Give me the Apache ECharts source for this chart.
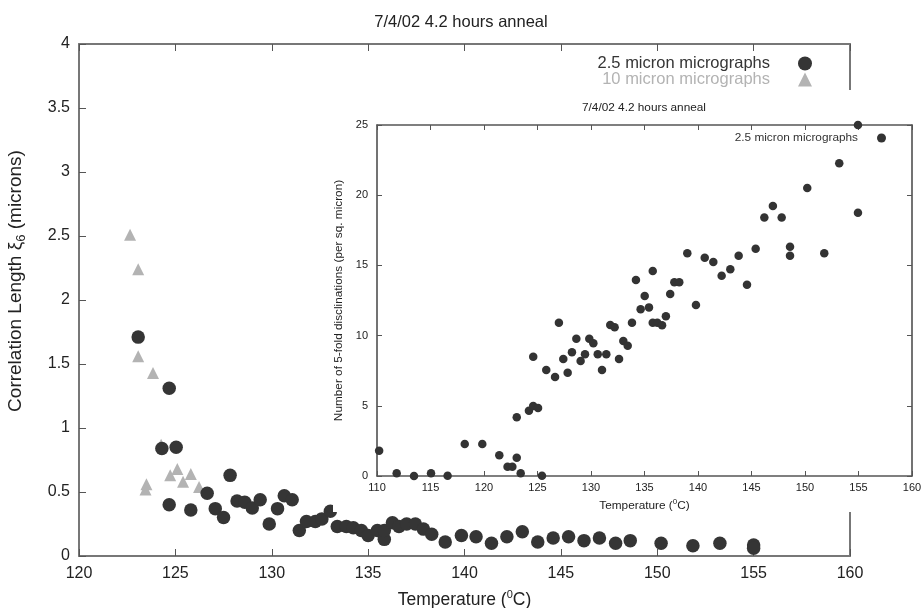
<!DOCTYPE html>
<html>
<head>
<meta charset="utf-8">
<script src="https://cdn.jsdelivr.net/npm/echarts@6/dist/echarts.min.js"></script>
<style>html,body{margin:0;padding:0;background:#fff;}#c{width:922px;height:608px;}</style>
</head>
<body>
<div id="c"></div>
<script>
// ---- Main chart data: correlation length vs temperature ----
const temps25 = [123.07,124.68,124.30,125.04,124.68,125.80,126.65,127.07,127.50,127.84,128.20,128.60,128.99,129.40,129.87,130.30,130.65,131.06,131.43,131.80,132.26,132.60,133.04,133.40,133.87,134.23,134.65,135.00,135.48,135.84,135.84,136.26,136.60,137.00,137.45,137.87,138.30,139.00,139.84,140.60,141.40,142.20,143.00,143.80,144.60,145.40,146.20,147.00,147.84,148.60,150.20,151.85,153.25,155.00,155.00];
const corr25 = [1.71,1.31,0.84,0.85,0.40,0.36,0.49,0.37,0.30,0.63,0.43,0.42,0.375,0.44,0.25,0.37,0.47,0.44,0.20,0.27,0.27,0.29,0.35,0.23,0.23,0.22,0.20,0.16,0.20,0.13,0.20,0.26,0.23,0.25,0.25,0.21,0.17,0.11,0.16,0.15,0.10,0.15,0.19,0.11,0.14,0.15,0.12,0.14,0.10,0.12,0.10,0.08,0.10,0.085,0.06];
const temps10 = [122.65,123.07,123.07,123.84,124.26,123.50,123.45,124.73,125.10,125.40,125.80,126.23];
const corr10 = [2.51,2.24,1.56,1.43,0.87,0.56,0.52,0.63,0.68,0.58,0.64,0.54];
// ---- Inset data: 5-fold disclinations vs temperature ----
const insetTemps = [110.2,111.84,113.46,115.05,116.6,118.2,119.84,121.43,122.2,122.65,123.06,123.43,123.06,124.2,124.6,125.05,125.42,124.6,125.82,126.64,127.0,127.41,127.82,128.22,128.63,129.03,129.44,129.84,130.22,130.63,131.03,131.43,131.8,132.21,132.62,133.02,133.43,133.83,134.2,134.64,135.02,135.42,135.77,135.77,136.2,136.64,137.0,137.4,137.79,138.25,139.0,139.81,140.63,141.43,142.21,143.02,143.8,144.58,145.39,146.2,147.0,147.82,148.6,148.6,150.21,151.8,153.2,154.95,154.95];
const insetDisc = [1.8,0.19,0.0,0.19,0.02,2.28,2.28,1.47,0.66,0.66,1.30,0.19,4.18,4.65,4.99,4.84,0.02,8.50,7.55,7.05,10.92,8.33,7.36,8.81,9.78,8.19,8.67,9.78,9.45,8.67,7.55,8.67,10.75,10.59,8.33,9.62,9.28,10.92,13.96,11.87,12.82,12.01,14.6,10.92,10.92,10.73,11.37,12.96,13.8,13.8,15.86,12.18,15.55,15.24,14.27,14.72,15.69,13.63,16.19,18.42,19.23,18.42,16.33,15.69,20.51,15.86,22.27,25.0,18.75];
// ---- Labels ----
const mainTitle = '7/4/02 4.2 hours anneal';
const name25 = '2.5 micron micrographs';
const name10 = '10 micron micrographs';
const mainYTicks = [0, 4, 0.5];
const mainXTicks = [120, 160, 5];
const insetXTicks = [110, 160, 5];
const insetYTicks = [0, 25, 5];

const pair = (xs, ys) => xs.map((x, i) => [x, ys[i]]);
const FONT = "'Liberation Sans', Arial, Helvetica, sans-serif";
const DARK = '#353535';
const LIGHT = '#b3b3b3';
const AX = '#777';

const chart = echarts.init(document.getElementById('c'), null, {renderer: 'canvas'});

function mainX(pos, showLabel, name) {
  return {
    type: 'value', gridIndex: 0, position: pos,
    min: mainXTicks[0], max: mainXTicks[1], interval: mainXTicks[2],
    axisLine: {show: true, onZero: false, lineStyle: {color: AX, width: 2}},
    axisTick: {show: true, inside: true, length: 7, lineStyle: {color: '#555', width: 1}},
    axisLabel: {show: showLabel, fontFamily: FONT, fontSize: 16, color: '#222', margin: 10},
    splitLine: {show: false},
    name: name || '', nameLocation: 'middle', nameGap: 33,
    nameTextStyle: {rich: {
      a: {fontFamily: FONT, fontSize: 17.5, color: '#222', lineHeight: 20, verticalAlign: 'bottom'},
      p: {fontFamily: FONT, fontSize: 11, color: '#222', lineHeight: 20, verticalAlign: 'top'}
    }},
    z: 1
  };
}
function insetX(pos, showLabel, name) {
  return {
    type: 'value', gridIndex: 1, position: pos,
    min: insetXTicks[0], max: insetXTicks[1], interval: insetXTicks[2],
    axisLine: {show: true, onZero: false, lineStyle: {color: '#555', width: 1.5}},
    axisTick: {show: true, inside: true, length: 5, lineStyle: {color: '#555', width: 1}},
    axisLabel: {show: showLabel, fontFamily: FONT, fontSize: 11, color: '#222', margin: 6},
    splitLine: {show: false},
    name: name || '', nameLocation: 'middle', nameGap: 22,
    nameTextStyle: {rich: {
      a: {fontFamily: FONT, fontSize: 11.8, color: '#222', lineHeight: 14, verticalAlign: 'bottom'},
      p: {fontFamily: FONT, fontSize: 8, color: '#222', lineHeight: 14, verticalAlign: 'top'}
    }},
    z: 60
  };
}

const option = {
  backgroundColor: '#fff',
  animation: false,
  title: {
    text: mainTitle, left: 'center', top: 9,
    textStyle: {fontFamily: FONT, fontSize: 16.5, fontWeight: 'normal', color: '#222'}
  },
  legend: [
    {
      orient: 'vertical', right: 105, top: 50, align: 'right', padding: 5,
      itemWidth: 14, itemHeight: 14, itemGap: -1,
      selectedMode: false, z: 5,
      data: [
        {name: name25, icon: 'circle', textStyle: {color: DARK}},
        {name: name10, icon: 'triangle', textStyle: {color: LIGHT}}
      ],
      textStyle: {fontFamily: FONT, fontSize: 16.5, lineHeight: 15, padding: [0, 23, 0, 0]}
    },
    {
      orient: 'vertical', right: 31, top: 127, align: 'right', padding: 5,
      itemWidth: 9, itemHeight: 9, itemGap: 0,
      selectedMode: false, z: 60,
      data: [{name: name25 + ' ', icon: 'circle', textStyle: {color: '#333'}}],
      formatter: n => n.trim(),
      textStyle: {fontFamily: FONT, fontSize: 11.8, padding: [0, 14, 0, 0]}
    }
  ],
  grid: [
    {left: 79, top: 44, width: 771, height: 512, show: false, outerBoundsMode: 'none', containLabel: false},
    {left: 377, top: 125, width: 535, height: 351, show: false, z: 60, outerBoundsMode: 'none', containLabel: false}
  ],
  xAxis: [
    mainX('bottom', true, '{a|Temperature (}{p|0}{a|C)}'),
    mainX('top', false),
    insetX('bottom', true, '{a|Temperature (}{p|0}{a|C)}'),
    insetX('top', false)
  ],
  yAxis: [
    {
      type: 'value', gridIndex: 0, position: 'left',
      min: mainYTicks[0], max: mainYTicks[1], interval: mainYTicks[2],
      axisLine: {show: true, onZero: false, lineStyle: {color: AX, width: 2}},
      axisTick: {show: true, inside: true, length: 7, lineStyle: {color: '#555', width: 1}},
      axisLabel: {fontFamily: FONT, fontSize: 16, color: '#222', margin: 9},
      splitLine: {show: false},
      z: 1
    },
    {
      type: 'value', gridIndex: 0, position: 'right',
      min: mainYTicks[0], max: mainYTicks[1], interval: mainYTicks[2],
      axisLine: {show: true, onZero: false, lineStyle: {color: AX, width: 2}},
      axisTick: {show: false}, axisLabel: {show: false}, splitLine: {show: false}, z: 1
    },
    {
      type: 'value', gridIndex: 1, position: 'left',
      min: insetYTicks[0], max: insetYTicks[1], interval: insetYTicks[2],
      axisLine: {show: true, onZero: false, lineStyle: {color: '#444', width: 1.5}},
      axisTick: {show: true, inside: true, length: 5, lineStyle: {color: '#555', width: 1}},
      axisLabel: {fontFamily: FONT, fontSize: 11, color: '#222', margin: 9},
      splitLine: {show: false},
      name: 'Number of 5-fold disclinations (per sq. micron)', nameLocation: 'middle', nameGap: 25,
      nameTextStyle: {fontFamily: FONT, fontSize: 11.8, color: '#222'},
      z: 60
    },
    {
      type: 'value', gridIndex: 1, position: 'right',
      min: insetYTicks[0], max: insetYTicks[1], interval: insetYTicks[2],
      axisLine: {show: true, onZero: false, lineStyle: {color: '#444', width: 1.5}},
      axisTick: {show: true, inside: true, length: 5, lineStyle: {color: '#555', width: 1}},
      axisLabel: {show: false}, splitLine: {show: false}, z: 60
    }
  ],
  graphic: {
    elements: [
      {type: 'rect', shape: {x: 333, y: 90, width: 589, height: 422}, style: {fill: '#fff'}, z: 50, silent: true},
      {type: 'text', x: 644, y: 108, z: 60, silent: true,
       style: {text: mainTitle, fontFamily: FONT, fontSize: 11.8, fill: '#222', align: 'center', verticalAlign: 'middle'}},
      {type: 'text', x: 17, y: 281, rotation: Math.PI / 2, z: 5, silent: true,
       style: {
         text: '{a|Correlation Length ξ}{s|6}{a| (microns)}',
         align: 'center', verticalAlign: 'middle',
         rich: {
           a: {fontFamily: FONT, fontSize: 19, fill: '#222', lineHeight: 22, verticalAlign: 'top'},
           s: {fontFamily: FONT, fontSize: 13, fill: '#222', lineHeight: 22, verticalAlign: 'bottom'}
         }
       }}
    ]
  },
  series: [
    {
      name: name10, type: 'scatter', xAxisIndex: 0, yAxisIndex: 0,
      data: pair(temps10, corr10), symbol: 'triangle', symbolSize: 12,
      itemStyle: {color: LIGHT, opacity: 1}, z: 2, clip: false
    },
    {
      name: name25, type: 'scatter', xAxisIndex: 0, yAxisIndex: 0,
      data: pair(temps25, corr25), symbol: 'circle', symbolSize: 13.5,
      itemStyle: {color: DARK, opacity: 1}, z: 3, clip: false
    },
    {
      name: name25 + ' ', type: 'scatter', xAxisIndex: 2, yAxisIndex: 2,
      data: pair(insetTemps, insetDisc), symbol: 'circle', symbolSize: 8.5,
      itemStyle: {color: '#333', opacity: 1}, z: 60, clip: false
    }
  ]
};
chart.setOption(option);
</script>
</body>
</html>
